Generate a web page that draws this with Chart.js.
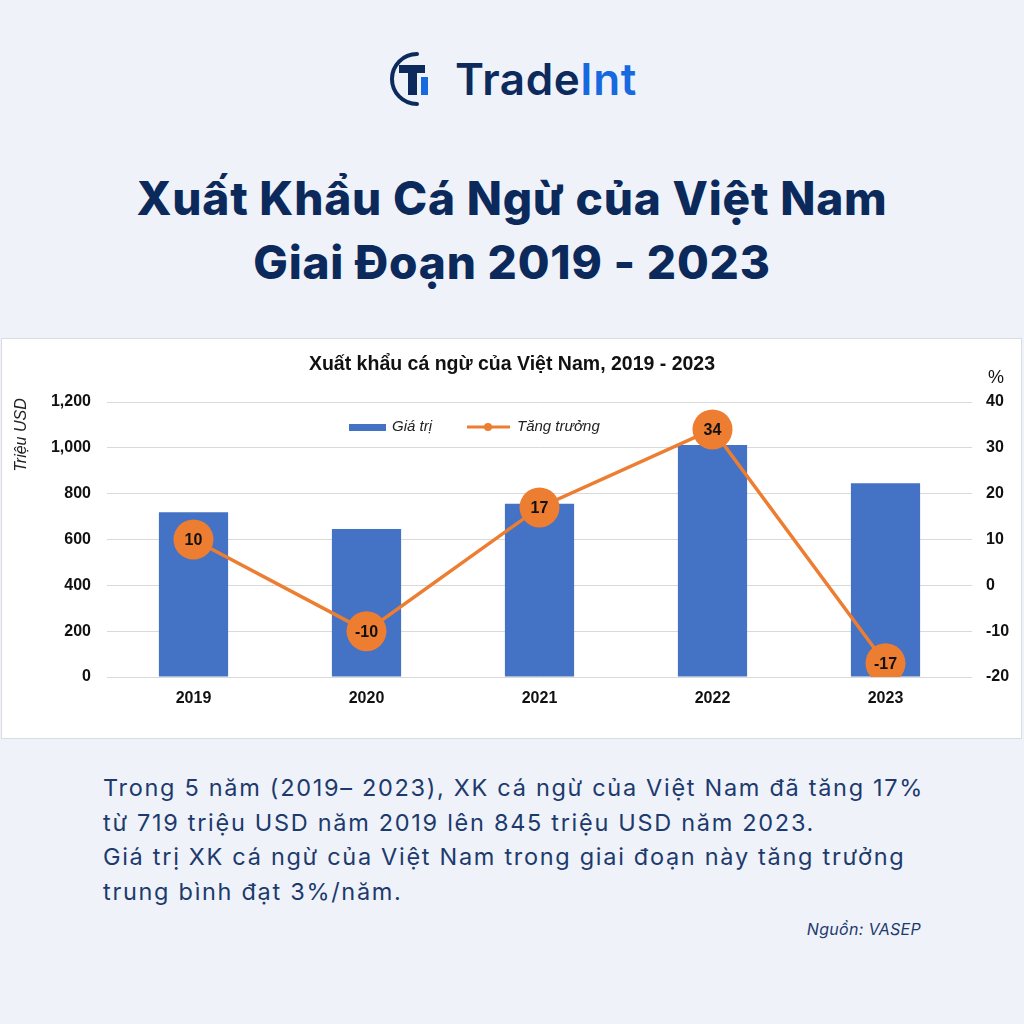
<!DOCTYPE html>
<html>
<head>
<meta charset="utf-8">
<script src="https://cdn.jsdelivr.net/npm/chart.js@4.4.1/dist/chart.umd.min.js"></script>
<style>
  html, body { margin: 0; padding: 0; }
  body { width: 1024px; height: 1024px; background: #eff2f9; position: relative; overflow: hidden; font-family: "Inter", "Open Sans", sans-serif; }
  .logo { position: absolute; left: 385px; top: 48px; height: 62px; display: flex; align-items: center; }
  .logo svg { display: block; }
  .logo .name { font-family: "Inter", sans-serif; font-weight: 600; font-size: 44px; color: #0d2a5c; margin-left: 8px; letter-spacing: 0.6px; }
  .logo .name b { color: #1769e0; font-weight: 600; }
  .title { position: absolute; left: 0; width: 1024px; top: 166px; text-align: center; font-weight: 800; font-size: 46px; line-height: 64px; color: #0b2a5b; letter-spacing: 0.8px; }
  .box { position: absolute; left: 1px; top: 338px; width: 1019px; height: 399px; background: #fff; border: 1px solid #d9dce2; }
  .box canvas { display: block; }
  .body { position: absolute; left: 103px; top: 771px; width: 900px; font-size: 23.5px; line-height: 34.5px; color: #1d3a6d; font-family: "Inter", sans-serif; letter-spacing: 1.7px; white-space: nowrap; }
  .src { position: absolute; right: 103px; top: 919px; font-size: 16px; font-style: italic; color: #1d3a6d; font-family: "Inter", sans-serif; letter-spacing: 0.3px; }
</style>
</head>
<body>
<div class="logo">
  <svg width="62" height="58" viewBox="0 0 62 58">
    <path d="M 32 4 A 25 25 0 1 0 32 54" fill="none" stroke="#0d2a5c" stroke-width="4" stroke-linecap="round"/>
    <rect x="14" y="15" width="26" height="8" fill="#0d2a5c"/>
    <rect x="23" y="15" width="9" height="30" fill="#0d2a5c"/>
    <rect x="36" y="27" width="7" height="18" fill="#1769e0"/>
  </svg>
  <div class="name">Trade<b>Int</b></div>
</div>
<div class="title">Xuất Khẩu Cá Ngừ của Việt Nam<br>Giai Đoạn 2019 - 2023</div>
<div class="box"><canvas id="chart" width="1019" height="399"></canvas></div>
<div class="body">Trong 5 năm (2019– 2023), XK cá ngừ của Việt Nam đã tăng 17%<br>từ 719 triệu USD năm 2019 lên 845 triệu USD năm 2023.<br>Giá trị XK cá ngừ của Việt Nam trong giai đoạn này tăng trưởng<br>trung bình đạt 3%/năm.</div>
<div class="src">Nguồn: VASEP</div>
<script>
const years = ['2019', '2020', '2021', '2022', '2023'];
const exportValue = [719, 646, 756, 1012, 845];
const growth = [10, -10, 17, 34, -17];
const chartTitle = 'Xuất khẩu cá ngừ của Việt Nam, 2019 - 2023';

const BLUE = '#4472c4';
const ORANGE = '#ed7d31';
const FONT = '"Liberation Sans", Arial, sans-serif';

// title, axis captions, legend and point labels
const extras = {
  id: 'extras',
  afterDatasetsDraw(chart) {
    const ctx = chart.ctx;
    ctx.save();
    ctx.fillStyle = '#111';
    ctx.textAlign = 'center';
    ctx.textBaseline = 'middle';
    ctx.font = 'bold 19.5px ' + FONT;
    ctx.fillText(chartTitle, 510, 26);

    ctx.font = '18px ' + FONT;
    ctx.fillText('%', 994, 39);

    ctx.save();
    ctx.translate(20, 96);
    ctx.rotate(-Math.PI / 2);
    ctx.font = 'italic 16px ' + FONT;
    ctx.fillStyle = '#222';
    ctx.fillText('Triệu USD', 0, 0);
    ctx.restore();

    // legend
    const ly = 88;
    const ds = chart.data.datasets;
    ctx.fillStyle = ds[1].backgroundColor;
    ctx.fillRect(347, ly - 3, 37, 7);
    ctx.strokeStyle = ds[0].borderColor;
    ctx.lineWidth = 3;
    ctx.beginPath();
    ctx.moveTo(465, ly);
    ctx.lineTo(508, ly);
    ctx.stroke();
    ctx.fillStyle = ds[0].borderColor;
    ctx.beginPath();
    ctx.arc(486, ly, 4, 0, Math.PI * 2);
    ctx.fill();
    ctx.fillStyle = '#222';
    ctx.textAlign = 'left';
    ctx.font = 'italic 15px ' + FONT;
    ctx.fillText(ds[1].label, 390, ly);
    ctx.fillText(ds[0].label, 515, ly);

    // labels inside the growth markers
    const meta = chart.getDatasetMeta(0);
    ctx.textAlign = 'center';
    ctx.fillStyle = '#111';
    ctx.font = 'bold 16px ' + FONT;
    meta.data.forEach((pt, i) => {
      ctx.fillText(String(growth[i]), pt.x, pt.y + 1);
    });
    ctx.restore();
  }
};

new Chart(document.getElementById('chart'), {
  data: {
    labels: years,
    datasets: [
      {
        type: 'line',
        label: 'Tăng trưởng',
        data: growth,
        yAxisID: 'y1',
        borderColor: ORANGE,
        backgroundColor: ORANGE,
        borderWidth: 3.5,
        pointRadius: 20,
        pointHoverRadius: 20,
        pointBackgroundColor: ORANGE,
        pointBorderWidth: 0,
        tension: 0,
        order: 0
      },
      {
        type: 'bar',
        label: 'Giá trị',
        data: exportValue,
        yAxisID: 'y',
        backgroundColor: BLUE,
        categoryPercentage: 1,
        barPercentage: 0.4,
        order: 1
      }
    ]
  },
  options: {
    responsive: false,
    animation: false,
    layout: { padding: { top: 63, left: 0, right: 0, bottom: 0 } },
    plugins: {
      legend: { display: false },
      title: { display: false },
      tooltip: { enabled: false }
    },
    scales: {
      x: {
        grid: { display: false, drawTicks: false },
        border: { display: false },
        ticks: { padding: 12, color: '#111', font: { family: FONT, size: 16, weight: 'bold' } },
        afterFit: (s) => { s.height = 61; }
      },
      y: {
        position: 'left',
        min: 0,
        max: 1200,
        ticks: {
          stepSize: 200,
          padding: 16,
          color: '#111',
          font: { family: FONT, size: 16, weight: 'bold' },
          callback: (v) => v.toLocaleString('en-US')
        },
        grid: { color: '#d9d9d9', lineWidth: 1, drawTicks: false },
        border: { display: false },
        afterFit: (s) => { s.width = 105; }
      },
      y1: {
        position: 'right',
        min: -20,
        max: 40,
        ticks: {
          stepSize: 10,
          padding: 14,
          color: '#111',
          font: { family: FONT, size: 16, weight: 'bold' }
        },
        grid: { display: false, drawTicks: false },
        border: { display: false },
        afterFit: (s) => { s.width = 49; }
      }
    }
  },
  plugins: [extras]
});
</script>
</body>
</html>
